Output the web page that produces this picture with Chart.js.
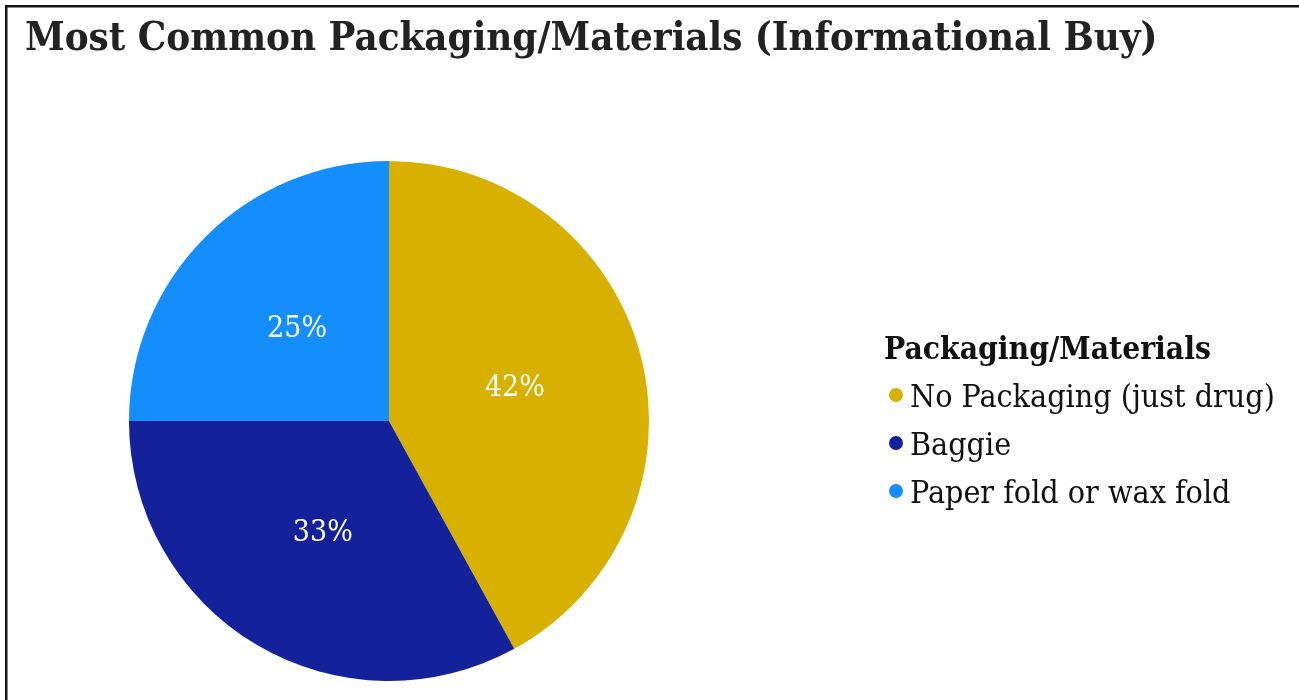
<!DOCTYPE html>
<html>
<head>
<meta charset="utf-8">
<script src="https://cdn.jsdelivr.net/npm/chart.js@4.4.0/dist/chart.umd.min.js"></script>
<style>
  html, body { margin: 0; padding: 0; background: #ffffff; overflow: hidden; }
  #wrap { width: 1299px; height: 700px; position: relative; }
</style>
</head>
<body>
<div id="wrap"><canvas id="c" width="1299" height="700"></canvas></div>
<script>
// Chart text and data
const chartTitle = 'Most Common Packaging/Materials (Informational Buy)';
const legendTitle = 'Packaging/Materials';
const categories = ['No Packaging (just drug)', 'Baggie', 'Paper fold or wax fold'];
const shares = [42, 33, 25];
const sliceColors = ['#D8B100', '#13219B', '#138EFC'];

const SERIF = '"DejaVu Serif Condensed", "DejaVu Serif", "Liberation Serif", serif';

function setFont(ctx, weight, size) {
  ctx.font = weight + ' ' + size + 'px ' + SERIF;
  if ('fontStretch' in ctx) ctx.fontStretch = 'condensed';
}

// Pick a font size so that the text spans the wanted width
function fitSize(ctx, text, weight, width) {
  setFont(ctx, weight, 100);
  return 100 * width / ctx.measureText(text).width;
}

const decor = {
  id: 'decor',
  afterDraw(chart) {
    const ctx = chart.ctx;
    ctx.save();

    // frame lines along the top and left
    ctx.fillStyle = '#141414';
    ctx.fillRect(5, 5, 1294, 2.5);
    ctx.fillRect(5, 5, 2.5, 695);

    // title
    let s = fitSize(ctx, chartTitle, 'bold', 1133);
    setFont(ctx, 'bold', s);
    ctx.fillStyle = '#222222';
    ctx.textAlign = 'left';
    ctx.textBaseline = 'alphabetic';
    ctx.fillText(chartTitle, 25, 50);

    // percentage labels at the middle of each slice
    const meta = chart.getDatasetMeta(0);
    s = fitSize(ctx, '42%', 'normal', 60);
    setFont(ctx, 'normal', s);
    ctx.fillStyle = '#ffffff';
    ctx.textAlign = 'center';
    ctx.textBaseline = 'middle';
    meta.data.forEach((arc, i) => {
      const p = arc.getCenterPoint();
      ctx.fillText(shares[i] + '%', p.x, p.y);
    });

    // legend
    ctx.textAlign = 'left';
    ctx.textBaseline = 'alphabetic';
    s = fitSize(ctx, legendTitle, 'bold', 327);
    setFont(ctx, 'bold', s);
    ctx.fillStyle = '#111111';
    ctx.fillText(legendTitle, 884, 359);

    s = fitSize(ctx, categories[0], 'normal', 365);
    setFont(ctx, 'normal', s);
    categories.forEach((name, i) => {
      const base = 407 + i * 48;
      ctx.fillStyle = sliceColors[i];
      ctx.beginPath();
      ctx.arc(896, base - 12, 7, 0, Math.PI * 2);
      ctx.fill();
      ctx.fillStyle = '#111111';
      ctx.fillText(name, 910, base);
    });

    ctx.restore();
  }
};

new Chart(document.getElementById('c'), {
  type: 'pie',
  data: {
    labels: categories,
    datasets: [{
      data: shares,
      backgroundColor: sliceColors,
      borderWidth: 0
    }]
  },
  options: {
    responsive: false,
    animation: false,
    devicePixelRatio: 1,
    layout: { padding: { left: 129, right: 650, top: 161, bottom: 19 } },
    plugins: {
      legend: { display: false },
      tooltip: { enabled: false },
      title: { display: false }
    }
  },
  plugins: [decor]
});
</script>
</body>
</html>
